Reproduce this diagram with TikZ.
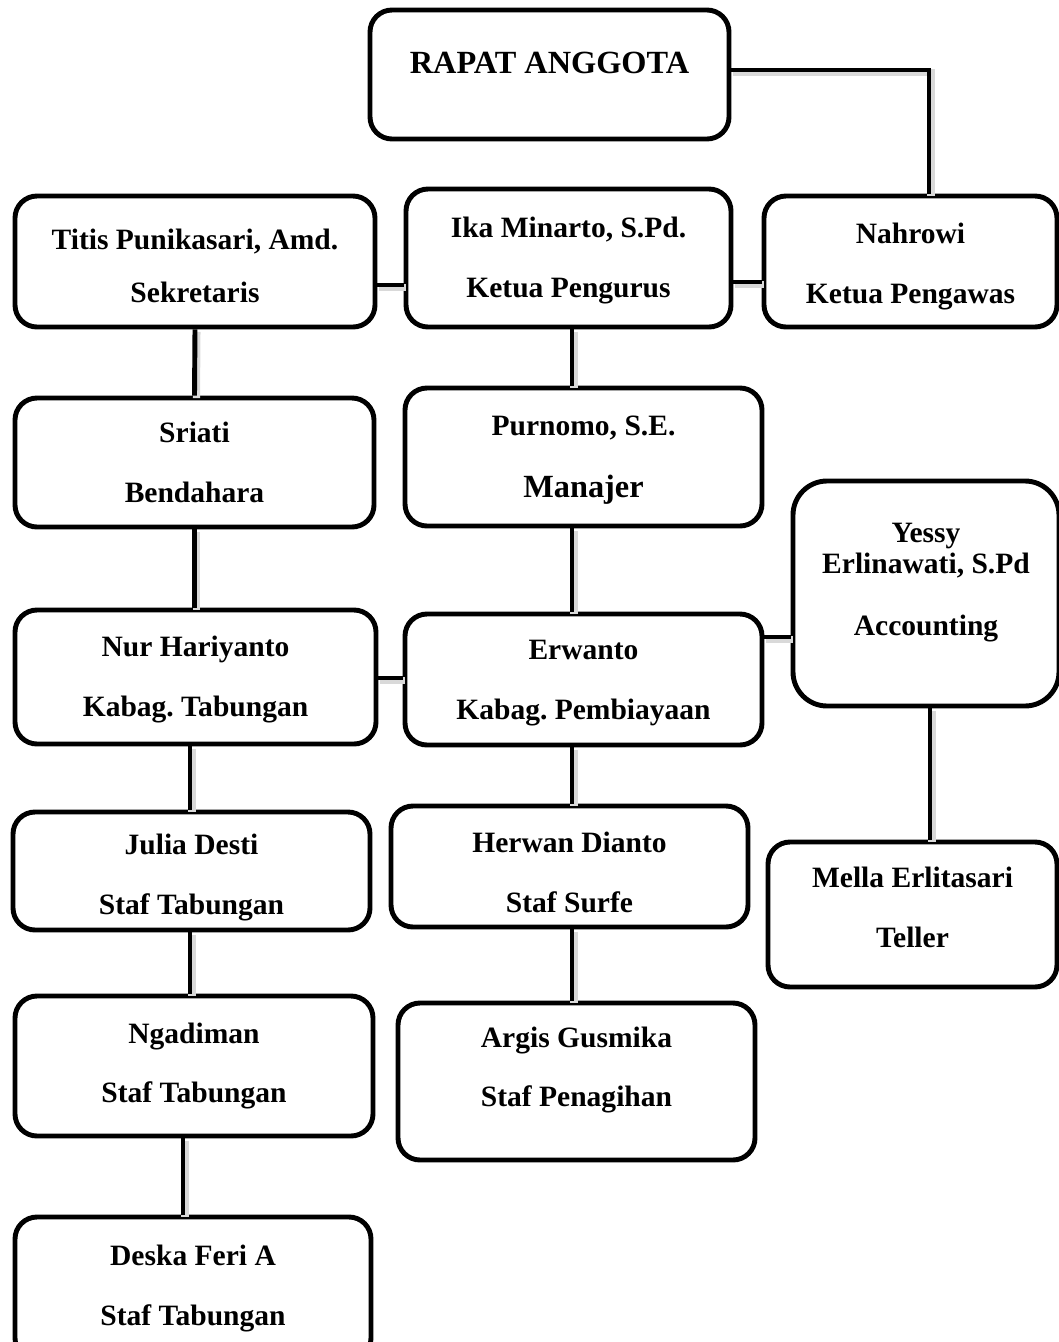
\documentclass[tikz,border=0pt]{standalone}
\usepackage{fontspec}
\setmainfont{Liberation Serif}
\usetikzlibrary{calc}
\frenchspacing

\begin{document}
\begin{tikzpicture}[x=0.025cm,y=-0.025cm,
  unit/.style={draw,line width=3.5pt,rounded corners=0.55cm,fill=white,align=center,inner sep=0pt,
    font=\bfseries\fontsize{21}{42.5}\selectfont},
  wh/.style 2 args={minimum width=#1*0.025cm,minimum height=#2*0.025cm},
  link/.style={line width=3.5pt,
    preaction={draw=black!15,line width=5pt,transform canvas={shift={(2,2.5)}}}}
]
\useasboundingbox (0,0) rectangle (1059,1342);
\clip (0,0) rectangle (1059,1342);
% top level
\node[unit,wh={359}{129},text depth=17pt] (rapat) at (549.5,74.5) {\fontsize{23}{28}\selectfont RAPAT ANGGOTA};
\node[unit,wh={360}{131},text height=58.7pt] (titis) at (195,261.5) {Titis Punikasari, Amd.\\[-5pt]Sekretaris};
\node[unit,wh={325}{138},text height=61pt] (ika) at (568.5,258) {Ika Minarto, S.Pd.\\Ketua Pengurus};
\node[unit,wh={293}{131},text height=64.5pt] (nahrowi) at (910.5,261.5) {Nahrowi\\Ketua Pengawas};
% second row
\node[unit,wh={359}{129}] (sriati) at (194.5,462.5) {Sriati\\Bendahara};
\node[unit,wh={357}{138},text height=63pt] (purnomo) at (583.5,457) {Purnomo, S.E.\\[1.5pt]{\fontsize{23}{42.5}\selectfont Manajer}};
\node[unit,wh={266}{225},rounded corners=0.85cm,text depth=20pt] (yessy) at (926,593.5) {Yessy\\[-20pt]Erlinawati, S.Pd\\[1.5pt]Accounting};
% kabag
\node[unit,wh={361}{134},text height=61pt] (nur) at (195.5,677) {Nur Hariyanto\\Kabag. Tabungan};
\node[unit,wh={357}{131},text height=61pt] (erwanto) at (583.5,679.5) {Erwanto\\Kabag. Pembiayaan};
% staf
\node[unit,wh={357}{118},text height=66.7pt] (julia) at (191.5,871) {Julia Desti\\Staf Tabungan};
\node[unit,wh={357}{121},text height=66pt] (herwan) at (569.5,866.5) {Herwan Dianto\\Staf Surfe};
\node[unit,wh={289}{145},text depth=10pt] (mella) at (912.5,914.5) {Mella Erlitasari\\Teller};
\node[unit,wh={358}{140}] (ngadiman) at (194,1066) {Ngadiman\\Staf Tabungan};
\node[unit,wh={357}{157},text depth=21pt] (argis) at (576.5,1081.5) {Argis Gusmika\\Staf Penagihan};
\node[unit,wh={356}{143}] (deska) at (193,1288.5) {Deska Feri A\\Staf Tabungan};
% connectors
\draw[link] (rapat.east |- 0,70) -| (nahrowi.north -| 929,0);
\draw[link] (titis.east |- 0,285) -- (ika.west |- 0,285);
\draw[link] (ika.east |- 0,282) -- (nahrowi.west |- 0,282);
\draw[link] (titis.south) -- (sriati.north);
\draw[link] (ika.south -| 572,0) -- (purnomo.north -| 572,0);
\draw[link] (sriati.south) -- (nur.north -| sriati.south);
\draw[link] (purnomo.south -| 572,0) -- (erwanto.north -| 572,0);
\draw[link] (nur.east |- 0,678) -- (erwanto.west |- 0,678);
\draw[link] (erwanto.east |- 0,637) -- (yessy.west |- 0,637);
\draw[link] (nur.south -| 190,0) -- (julia.north -| 190,0);
\draw[link] (erwanto.south -| 572,0) -- (herwan.north -| 572,0);
\draw[link] (yessy.south -| 930,0) -- (mella.north -| 930,0);
\draw[link] (julia.south -| 190,0) -- (ngadiman.north -| 190,0);
\draw[link] (herwan.south -| 572,0) -- (argis.north -| 572,0);
\draw[link] (ngadiman.south -| 183,0) -- (deska.north -| 183,0);
\end{tikzpicture}
\end{document}
